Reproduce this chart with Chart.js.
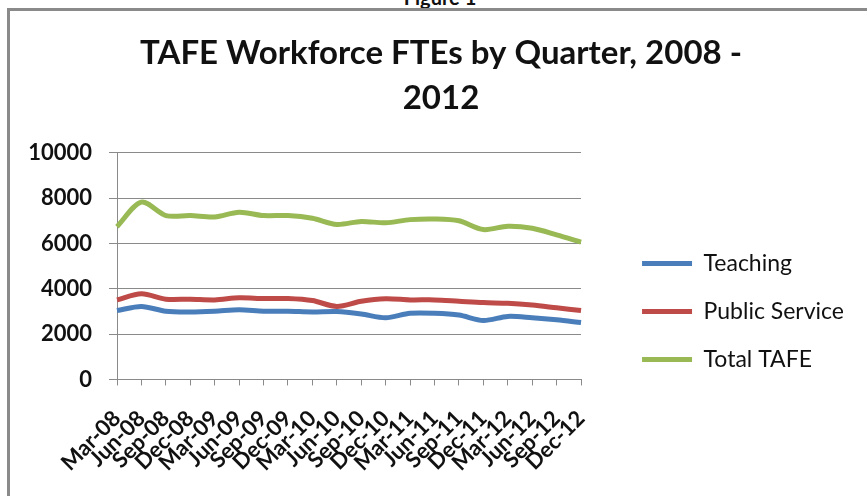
<!DOCTYPE html>
<html>
<head>
<meta charset="utf-8">
<script src="https://cdn.jsdelivr.net/npm/chart.js@4/dist/chart.umd.min.js"></script>
<style>
  html, body { margin: 0; padding: 0; background: #fff; overflow: hidden; }
  body { width: 867px; height: 496px; position: relative; }
  #fig { position: absolute; top: -15px; left: 0; width: 880px; text-align: center;
         font: bold 20px Lato, sans-serif; color: #111; }
  #frame { position: absolute; left: 7px; top: 8px; width: 870px; height: 500px;
           border-top: 3px solid #8a8a8a; border-left: 3px solid #8a8a8a; }
  #chart { position: absolute; left: 10px; top: 11px; }
</style>
</head>
<body>
<div id="fig">Figure 1</div>
<div id="frame"></div>
<canvas id="chart" width="857" height="485"></canvas>
<script>
// TAFE workforce FTEs by quarter

const quarters = ['Mar-08', 'Jun-08', 'Sep-08', 'Dec-08', 'Mar-09', 'Jun-09', 'Sep-09', 'Dec-09',
                  'Mar-10', 'Jun-10', 'Sep-10', 'Dec-10', 'Mar-11', 'Jun-11', 'Sep-11', 'Dec-11',
                  'Mar-12', 'Jun-12', 'Sep-12', 'Dec-12'];

const teaching = [3040, 3220, 3010, 2980, 3010, 3070, 3010, 3010, 2980, 3000,
                  2890, 2720, 2920, 2920, 2840, 2600, 2780, 2720, 2630, 2510];

const publicService = [3510, 3780, 3540, 3540, 3510, 3600, 3570, 3570, 3480, 3220,
                       3450, 3560, 3510, 3510, 3450, 3390, 3360, 3280, 3160, 3040];

const totalTafe = [6740, 7820, 7230, 7230, 7170, 7380, 7230, 7230, 7110, 6840,
                   6970, 6910, 7050, 7080, 7000, 6610, 6760, 6670, 6380, 6060];

const yTicks = { min: 0, max: 10000, step: 2000 };

const colors = {
    teaching: '#4a7ebb',
    publicService: '#be4b48',
    totalTafe: '#98b954'
};

function series(label, data, color) {
    return {
        label: label,
        data: data,
        borderColor: color,
        backgroundColor: color,
        borderWidth: 5,
        pointRadius: 0,
        tension: 0.3,
        fill: false
    };
}

// the layout caps a side legend at a fraction of the width; give it room for its text
const roomyLegend = {
    id: 'roomyLegend',
    beforeLayout(chart) {
        const lg = chart.legend;
        if (lg && !lg._roomy) {
            const update = lg.update;
            lg.update = function(maxWidth, maxHeight, margins) {
                return update.call(this, Math.max(maxWidth, 280), maxHeight, margins);
            };
            lg._roomy = true;
        }
    }
};

const ctx = document.getElementById('chart');

new Chart(ctx, {
    type: 'line',
    data: {
        labels: quarters,
        datasets: [
            series('Teaching', teaching, colors.teaching),
            series('Public Service', publicService, colors.publicService),
            series('Total TAFE', totalTafe, colors.totalTafe)
        ]
    },
    plugins: [roomyLegend],
    options: {
        responsive: false,
        animation: false,
        layout: { padding: { left: 18, right: 13, top: 0, bottom: 0 } },
        plugins: {
            title: {
                display: true,
                text: ['TAFE Workforce FTEs by Quarter, 2008 -', '2012'],
                color: '#111',
                font: { family: 'Lato', size: 33, weight: 'bold', lineHeight: 1.36 },
                padding: { top: 20, bottom: 32 }
            },
            legend: {
                display: true,
                position: 'right',
                align: 'center',
                // blank title only pushes the entries down to where they sit in the original
                title: { display: true, text: ' ', padding: 0, font: { size: 20, lineHeight: 5.8 } },
                labels: {
                    usePointStyle: true,
                    pointStyle: 'line',
                    pointStyleWidth: 50,
                    boxWidth: 50,
                    padding: 25,
                    color: '#111',
                    font: { family: 'Lato', size: 23 }
                }
            },
            tooltip: { enabled: false }
        },
        scales: {
            x: {
                offset: false,
                grid: { drawOnChartArea: false, color: '#8a8a8a', tickLength: 6 },
                border: { color: '#8a8a8a' },
                ticks: {
                    autoSkip: false,
                    maxRotation: 45,
                    minRotation: 45,
                    color: '#111',
                    padding: 20,
                    font: { family: 'Lato', size: 22, weight: 'bold' }
                }
            },
            y: {
                min: yTicks.min,
                max: yTicks.max,
                grid: { color: '#8a8a8a', tickLength: 8 },
                border: { color: '#8a8a8a' },
                ticks: {
                    stepSize: yTicks.step,
                    color: '#111',
                    padding: 17,
                    font: { family: 'Lato', size: 22, weight: 'bold' },
                    callback: function(v) { return String(v); }
                },
                afterFit: function(scale) { scale.width = 89; }
            },
            // empty spacer axis: keeps the gap between the plot and the legend
            gap: {
                type: 'linear',
                position: 'right',
                display: true,
                grid: { display: false },
                border: { display: false },
                ticks: { display: false },
                afterFit: function(scale) { scale.width = 36; }
            }
        }
    }
});
</script>
</body>
</html>
